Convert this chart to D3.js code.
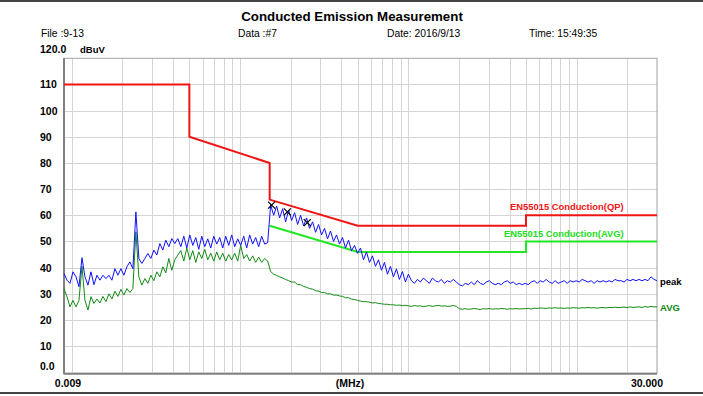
<!doctype html>
<html>
  <head>
    <meta charset="utf-8">
    <script src="https://cdn.jsdelivr.net/npm/d3@7/dist/d3.min.js"></script>
    <title>Conducted Emission Measurement</title>
    <style>
      body { margin: 0; background: #fff; }
      svg { display: block; font-family: "Liberation Sans", Arial, sans-serif; }
    </style>
  </head>
  <body>
    <div id="chart"></div>
    <script>
      // header texts
      const title = "Conducted Emission Measurement";
      const headerItems = ["File :9-13", "Data :#7", "Date: 2016/9/13", "Time: 15:49:35"];

      // sweep of the receiver, MHz (log spaced)
      const sweepStart = 0.009, sweepStop = 30;

      // peak detector trace, dBuV
      const peak = [
        37.8, 35.2, 34, 38.4, 36.5, 32.7, 43.8, 36.5, 33.3, 38.4,
        33.5, 37.1, 35.2, 37.1, 35.8, 37.1, 35.2, 39.6, 37.1, 39.6,
        37.1, 40.3, 42.2, 39.6, 61.3, 43.5, 41.6, 43.5, 45.4, 43.5,
        46.7, 44.8, 49.2, 46.7, 50.5, 48, 51.1, 49.2, 51.1, 48,
        52, 47.5, 52.5, 48.5, 51.5, 47, 52, 48, 51, 47.5,
        52, 49, 51.5, 47.5, 52, 48.5, 52.5, 48, 51, 48.5,
        52, 47.5, 52.5, 49, 51.5, 48, 52, 49, 49.5, 64,
        60, 63.5, 59, 62.5, 57.5, 62, 58, 61, 56.5, 60,
        56, 59, 55, 57.5, 53.5, 56.5, 52.5, 55, 51, 54,
        50, 52.5, 49, 51.5, 47.5, 50.5, 46.5, 48.5, 45.5, 47.5,
        43, 46, 42, 44.5, 40.5, 43, 39, 42, 37.5, 40.5,
        36.5, 39.5, 35.5, 38.5, 34.5, 37.5, 35, 34, 35.5, 34.5,
        36, 35, 34, 36, 35, 34.5, 35.5, 34, 35, 34.5,
        35.5, 34.5, 33.5, 33, 34, 33.5, 34.5, 33.5, 35, 34,
        33.5, 34.5, 35, 34, 33.5, 34, 33.5, 34.5, 35, 34,
        34.5, 33.5, 34, 33.5, 34, 33.5, 34.5, 35, 34, 35,
        34.5, 35.5, 34.5, 34, 35, 34, 34.5, 35, 34, 35,
        34.5, 35, 34.5, 35.5, 35, 34.5, 35, 34, 35, 34.5,
        35, 34.5, 35, 34.5, 35.5, 35, 35, 34.5, 35.5, 35,
        35.5, 35, 35.5, 35, 35.5, 35, 36.5, 35.5, 35
      ];

      // average detector trace, dBuV
      const avg = [
        32, 28.9, 25, 27.5, 25, 27.5, 40.5, 27.5, 23.8, 28.9,
        26.3, 28, 26.5, 29, 27, 30, 28, 31, 29, 31.7,
        29.5, 32, 30.5, 32, 53.7, 36.5, 33.3, 35.8, 34, 37.1,
        35, 38.4, 36.5, 40.3, 38, 43.5, 39, 43, 44.8, 46.5,
        42.5, 47.5, 43, 46.5, 42, 46, 43.5, 47, 43, 45.5,
        42.5, 46, 43, 45.5, 42.5, 45, 43, 45.5, 42.5, 48.5,
        43.5, 45, 42.5, 44.5, 42, 44, 42, 43.5, 42.5, 38.5,
        37.5, 37, 36.5, 36, 35.5, 35, 34.5, 34.5, 33.5, 33.5,
        32.8, 32.5, 32, 31.8, 31.2, 31, 30.5, 30.5, 30, 30,
        29.5, 29.5, 29.2, 29, 28.5, 28.5, 28, 27.8, 27.5, 27.2,
        27, 27, 26.8, 26.5, 26.6, 26.3, 26.2, 26, 26, 25.8,
        25.8, 25.6, 25.7, 25.5, 25.6, 25.4, 25.2, 25.5, 25.3, 25.4,
        25.1, 25.3, 25.5, 25.2, 25.4, 25.6, 25.3, 25.4, 25.2, 25.3,
        25.5, 25.2, 24.3, 24.1, 24.3, 24.1, 24.2, 24.4, 24.2, 24.0,
        24.3, 24.2, 24.4, 24.1, 24.3, 24.2, 24.4, 24.3, 24.1, 24.3,
        24.2, 24.4, 24.2, 24.3, 24.3, 24.4, 24.2, 24.5, 24.4, 24.6,
        24.5, 24.4, 24.6, 24.5, 24.7, 24.5, 24.6, 24.4, 24.6, 24.5,
        24.7, 24.6, 24.5, 24.7, 24.6, 24.8, 24.6, 24.7, 24.5, 24.7,
        24.8, 24.6, 24.8, 24.7, 24.9, 24.7, 24.8, 24.9, 24.7, 25.0,
        24.8, 24.9, 25.0, 24.8, 25.1, 24.9, 25.2, 25.0, 25.0
      ];

      // EN55015 limit lines [MHz, dBuV]
      const limitQP = [[0.009, 110], [0.05, 110], [0.05, 90], [0.15, 80], [0.15, 66],
                       [0.5, 56], [5, 56], [5, 60], [30, 60]];
      const limitAVG = [[0.15, 56], [0.5, 46], [5, 46], [5, 50], [30, 50]];

      // marked peaks [MHz, dBuV]
      const markers = [[0.154, 63.9], [0.191, 61.3], [0.251, 57.2]];

      const yTicks = [10, 20, 30, 40, 50, 60, 70, 80, 90, 100, 110];

      (function() {
        const width = 703, height = 396;

        const x = d3.scaleLog()
          .domain([sweepStart, sweepStop])
          .range([64, 657]);

        const y = d3.scaleLinear()
          .domain([0, 120])
          .range([372.3, 58.3]);

        const sweep = (n, i) => sweepStart * Math.pow(sweepStop / sweepStart, i / (n - 1));

        const svg = d3.select("#chart").append("svg")
          .attr("width", width)
          .attr("height", height);

        // page edges
        svg.append("rect").attr("x", 0).attr("y", 0).attr("width", width).attr("height", 2).attr("fill", "#444");
        svg.append("rect").attr("x", 0).attr("y", 392).attr("width", width).attr("height", 2).attr("fill", "#444");

        // header
        svg.append("text")
          .attr("x", 352).attr("y", 21)
          .attr("text-anchor", "middle")
          .attr("font-size", 13.3)
          .attr("font-weight", "bold")
          .text(title);

        svg.selectAll("text.head")
          .data(headerItems)
          .join("text")
            .attr("class", "head")
            .attr("x", (d, i) => [41, 238, 387, 529][i])
            .attr("y", 37)
            .attr("font-size", 10.3)
            .text(d => d);

        svg.append("text").attr("x", 40).attr("y", 53).attr("font-size", 10.5).attr("font-weight", "bold").text("120.0");
        svg.append("text").attr("x", 80).attr("y", 53).attr("font-size", 9.5).attr("font-weight", "bold").text("dBuV");

        // grid
        const grid = svg.append("g").attr("stroke", "#d4d4d4").attr("stroke-width", 1);

        grid.selectAll("line.v")
          .data(x.ticks().filter(d => d > sweepStart * 1.001 && d < sweepStop * 0.999))
          .join("line")
            .attr("x1", d => Math.round(x(d)) + 0.5)
            .attr("x2", d => Math.round(x(d)) + 0.5)
            .attr("y1", y(120))
            .attr("y2", y(0));

        grid.selectAll("line.h")
          .data(yTicks)
          .join("line")
            .attr("x1", x(sweepStart))
            .attr("x2", x(sweepStop))
            .attr("y1", d => Math.round(y(d)) + 0.5)
            .attr("y2", d => Math.round(y(d)) + 0.5);

        // frame
        svg.append("rect")
          .attr("x", x(sweepStart)).attr("y", y(120))
          .attr("width", x(sweepStop) - x(sweepStart))
          .attr("height", y(0) - y(120) + 1)
          .attr("fill", "none")
          .attr("stroke", "#a0a0a0");
        svg.append("line")
          .attr("x1", x(sweepStart)).attr("x2", x(sweepStart))
          .attr("y1", y(120)).attr("y2", y(0) + 2)
          .attr("stroke", "#808080").attr("stroke-width", 2);
        svg.append("line")
          .attr("x1", x(sweepStart)).attr("x2", x(sweepStop))
          .attr("y1", y(0) + 1.5).attr("y2", y(0) + 1.5)
          .attr("stroke", "#808080").attr("stroke-width", 2);

        // y labels
        svg.selectAll("text.ylab")
          .data(yTicks)
          .join("text")
            .attr("class", "ylab")
            .attr("x", 40)
            .attr("y", d => y(d) + 4)
            .attr("font-size", 10.5)
            .attr("font-weight", "bold")
            .text(d => d);
        svg.append("text").attr("x", 40).attr("y", y(0) - 2).attr("font-size", 10.5).attr("font-weight", "bold").text("0.0");

        // x labels
        svg.append("text").attr("x", x(sweepStart) + 4).attr("y", 387).attr("text-anchor", "middle")
          .attr("font-size", 10.5).attr("font-weight", "bold").text("0.009");
        svg.append("text").attr("x", 350).attr("y", 387).attr("text-anchor", "middle")
          .attr("font-size", 10.5).attr("font-weight", "bold").text("(MHz)");
        svg.append("text").attr("x", x(sweepStop) - 10).attr("y", 387).attr("text-anchor", "middle")
          .attr("font-size", 10.5).attr("font-weight", "bold").text("30.000");

        const line = d3.line().x(d => x(d[0])).y(d => y(d[1]));

        // limit lines
        svg.append("path").datum(limitAVG)
          .attr("fill", "none").attr("stroke", "#22e622").attr("stroke-width", 2)
          .attr("d", line);
        svg.append("path").datum(limitQP)
          .attr("fill", "none").attr("stroke", "#f21414").attr("stroke-width", 2)
          .attr("d", line);

        // traces
        svg.append("path").datum(avg.map((v, i) => [sweep(avg.length, i), v]))
          .attr("fill", "none").attr("stroke", "#128a12").attr("stroke-width", 1)
          .attr("d", line);
        svg.append("path").datum(peak.map((v, i) => [sweep(peak.length, i), v]))
          .attr("fill", "none").attr("stroke", "#1010ff").attr("stroke-width", 1)
          .attr("d", line);

        // markers
        svg.selectAll("path.mark")
          .data(markers)
          .join("path")
            .attr("class", "mark")
            .attr("d", d => {
              const cx = x(d[0]), cy = y(d[1]), r = 3.5;
              return "M" + (cx - r) + "," + (cy - r) + "L" + (cx + r) + "," + (cy + r) +
                "M" + (cx - r) + "," + (cy + r) + "L" + (cx + r) + "," + (cy - r);
            })
            .attr("stroke", "#000")
            .attr("stroke-width", 1.2);

        // labels on the right
        svg.append("text").attr("x", 510).attr("y", 210).attr("font-size", 9.4)
          .attr("font-weight", "bold").attr("fill", "#f21414").text("EN55015 Conduction(QP)");
        svg.append("text").attr("x", 504).attr("y", 237).attr("font-size", 9.4)
          .attr("font-weight", "bold").attr("fill", "#22dd22").text("EN55015 Conduction(AVG)");
        svg.append("text").attr("x", 660).attr("y", 285).attr("font-size", 9.5)
          .attr("font-weight", "bold").attr("fill", "#000").text("peak");
        svg.append("text").attr("x", 660).attr("y", 311).attr("font-size", 9.5)
          .attr("font-weight", "bold").attr("fill", "#128a12").text("AVG");
      })();
    </script>
  </body>
</html>
